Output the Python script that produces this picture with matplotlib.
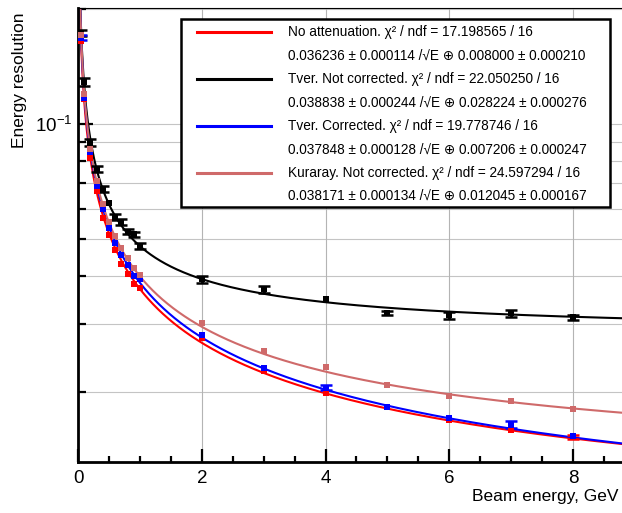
import numpy as np
import matplotlib
matplotlib.use("Agg")
import matplotlib.pyplot as plt
from matplotlib.ticker import FixedLocator, NullFormatter, FixedFormatter
from matplotlib.patches import Rectangle
from matplotlib.lines import Line2D

plt.rcParams['font.family'] = ['Liberation Sans', 'DejaVu Sans']
plt.rcParams['mathtext.fontset'] = 'custom'
plt.rcParams['mathtext.rm'] = 'Liberation Sans'
plt.rcParams['mathtext.it'] = 'Liberation Sans:italic'

# ---- data ----
energy = [0.05, 0.1, 0.2, 0.3, 0.4, 0.5, 0.6, 0.7, 0.8, 0.9, 1.0, 2, 3, 4, 5, 6, 7, 8]

no_att = [0.165, 0.116, 0.0815, 0.0668, 0.0570, 0.0512, 0.0468, 0.0432, 0.0405, 0.0383, 0.0374,
          0.0276, 0.0227, 0.0198, 0.0182, 0.0169, 0.0159, 0.0152]
# errors smaller than the marker are given as 0 (not visible in the picture)
no_att_err = [0, 0, 0, 0, 0, 0, 0, 0, 0, 0, 0,
              0, 0, 0, 0, 0, 0, 0.00018]

tver_nc = [0.1725, 0.1289, 0.0894, 0.0762, 0.0675, 0.0623, 0.0571, 0.0556, 0.0524, 0.0515, 0.0480,
           0.0393, 0.0370, 0.0349, 0.0321, 0.0317, 0.0321, 0.0313]
tver_nc_err = [0.0030, 0.0030, 0.0018, 0.0013, 0.0012, 0, 0.0010, 0.0010, 0.0009, 0.0009, 0.0008,
               0.0008, 0.00075, 0, 0.00045, 0.0007, 0.00066, 0.0005]

tver_c = [0.168, 0.117, 0.0845, 0.0690, 0.0600, 0.0535, 0.0490, 0.0455, 0.0428, 0.0402, 0.0393,
          0.0281, 0.0230, 0.0205, 0.0183, 0.0171, 0.0164, 0.0153]
tver_c_err = [0.0025, 0, 0, 0, 0, 0, 0, 0, 0, 0, 0,
              0, 0, 0.0003, 0, 0, 0.00033, 0]

kuraray = [0.171, 0.120, 0.0860, 0.0710, 0.0618, 0.0556, 0.0510, 0.0474, 0.0446, 0.0422, 0.0403,
           0.0303, 0.0256, 0.0232, 0.0208, 0.0195, 0.0189, 0.0180]
kuraray_err = [0] * 18

# fit parameters: sigma = a/sqrt(E) (+) b
fit_a = [0.036236, 0.038838, 0.037848, 0.038171]
fit_b = [0.008000, 0.028224, 0.007206, 0.012045]

names = ["No attenuation. χ² / ndf = 17.198565 / 16",
         "Tver. Not corrected. χ² / ndf = 22.050250 / 16",
         "Tver. Corrected. χ² / ndf = 19.778746 / 16",
         "Kuraray. Not corrected. χ² / ndf = 24.597294 / 16"]
params = ["0.036236 ± 0.000114 /√E ⊕ 0.008000 ± 0.000210",
          "0.038838 ± 0.000244 /√E ⊕ 0.028224 ± 0.000276",
          "0.037848 ± 0.000128 /√E ⊕ 0.007206 ± 0.000247",
          "0.038171 ± 0.000134 /√E ⊕ 0.012045 ± 0.000167"]
colors = ["#ff0000", "#000000", "#0000ff", "#cf6a6a"]

series = [(no_att, no_att_err), (tver_nc, tver_nc_err), (tver_c, tver_c_err), (kuraray, kuraray_err)]

y_minor = [0.02, 0.03, 0.04, 0.05, 0.06, 0.07, 0.08, 0.09, 0.2]
x_major = [0, 2, 4, 6, 8]
x_minor = [0.5, 1, 1.5, 2.5, 3, 3.5, 4.5, 5, 5.5, 6.5, 7, 7.5, 8.5]

# ---- figure ----
W, H = 622, 513
fig = plt.figure(figsize=(W / 100, H / 100), dpi=100)
ax_l, ax_r, ax_t, ax_b = 78, 622, 8, 462
ax = fig.add_axes([ax_l / W, 1 - ax_b / H, (ax_r - ax_l) / W, (ax_b - ax_t) / H])
ax.set_yscale('log')
ax.set_xlim(0, 8.79)
ax.set_ylim(0.01311, 0.2009)

# grid
for yv in y_minor + [0.1]:
    ax.axhline(yv, color='#c4c4c4', lw=0.8, zorder=0)
for xv in x_major[1:]:
    ax.axvline(xv, color='#b4b4b4', lw=0.8, zorder=0)

# fit curves
Eg = np.linspace(0.02, 8.8, 800)
for a, b, c in zip(fit_a, fit_b, colors):
    ax.plot(Eg, np.sqrt(a ** 2 / Eg + b ** 2), color=c, lw=1.5, zorder=2)

# data points with error bars
for (vals, errs), c in zip(series, colors):
    ex = [e for e, er in zip(energy, errs) if er > 0]
    ey = [v for v, er in zip(vals, errs) if er > 0]
    ee = [er for er in errs if er > 0]
    if ex:
        ax.errorbar(ex, ey, yerr=ee, fmt='none', ecolor=c,
                    elinewidth=2.0, capsize=4.3, capthick=1.8, zorder=3)
    ax.plot(energy, vals, 's', color=c, ms=4, markeredgewidth=0, zorder=3.5)

# axes styling
ax.spines['right'].set_visible(False)
ax.spines['top'].set_linewidth(0.8)
ax.spines['left'].set_linewidth(2.0)
ax.spines['bottom'].set_linewidth(2.0)

ax.xaxis.set_major_locator(FixedLocator(x_major))
ax.xaxis.set_minor_locator(FixedLocator(x_minor))
ax.yaxis.set_major_locator(FixedLocator([0.1]))
ax.yaxis.set_major_formatter(FixedFormatter([r'$10^{-1}$']))
ax.yaxis.set_minor_locator(FixedLocator(y_minor))
ax.yaxis.set_minor_formatter(NullFormatter())
ax.tick_params(axis='both', which='both', direction='in', width=1.6, top=False, right=False)
ax.tick_params(axis='x', which='major', length=9.5, labelsize=13.5, pad=6)
ax.tick_params(axis='x', which='minor', length=4.5)
ax.tick_params(axis='y', which='major', length=11, labelsize=13.5, pad=4)
ax.tick_params(axis='y', which='minor', length=5.5)

fig.text(20 / W, 1 - 13 / H, 'Energy resolution', rotation=90, ha='center', va='top', fontsize=12.5)
fig.text(619 / W, 1 - 497 / H, 'Beam energy, GeV', ha='right', va='center', fontsize=12.5)

# legend box (manual)
lx0, lx1, ly0, ly1 = 181, 610, 19.5, 206.5
fig.patches.append(Rectangle((lx0 / W, 1 - ly1 / H), (lx1 - lx0) / W, (ly1 - ly0) / H,
                             transform=fig.transFigure, facecolor='white', edgecolor='black',
                             lw=1.8, zorder=5))
row_y = [31.7, 55.7, 79.0, 102.3, 125.7, 149.3, 172.7, 195.5]
for i in range(4):
    y1 = row_y[2 * i]
    y2 = row_y[2 * i + 1]
    fig.lines.append(Line2D([197 / W, 271 / W], [1 - y1 / H, 1 - y1 / H], transform=fig.transFigure,
                            color=colors[i], lw=2.2, zorder=6))
    fig.text(288 / W, 1 - y1 / H, names[i], ha='left', va='center', fontsize=9.8, zorder=6)
    fig.text(288 / W, 1 - y2 / H, params[i], ha='left', va='center', fontsize=9.8, zorder=6)

fig.savefig('out.png', dpi=100)
